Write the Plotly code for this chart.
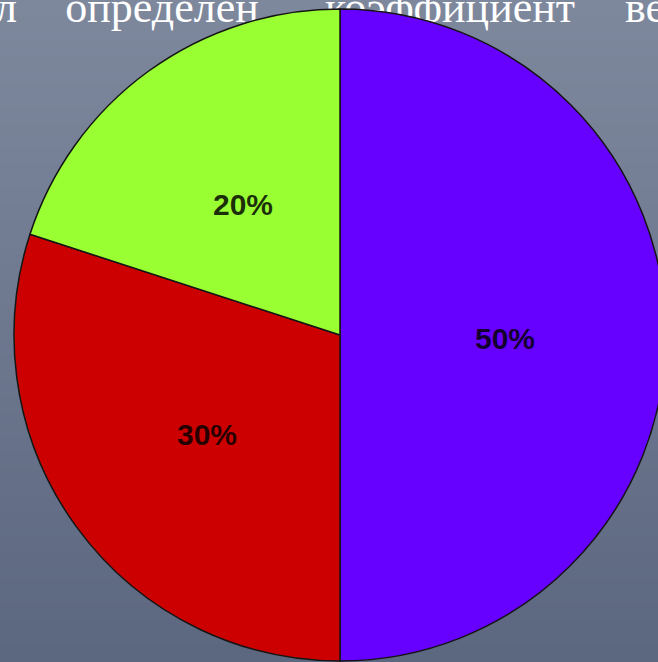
import math
import plotly.graph_objects as go

# ---- data ----
labels = ["A", "B", "C"]
values = [50, 30, 20]
slice_colors = ["#6600FF", "#CC0000", "#99FF33"]
heading_words = ["л", "определен", "коэффициент", "ве"]

# ---- layout constants ----
W, H = 672, 662
cx, cy, R = 340, 335, 326
word_x = [17, 162, 450, 625]           # pixel anchors
word_pos = ["middle left", "middle center", "middle center", "middle right"]
word_y = 651
label_r = 0.505                          # fraction of radius for labels

fig = go.Figure()

# heading text (behind pie)
fig.add_trace(go.Scatter(
    x=word_x, y=[word_y] * len(heading_words), text=heading_words,
    mode="text", textposition=word_pos,
    textfont=dict(family="Liberation Serif", size=44, color="white"),
    hoverinfo="skip", showlegend=False, cliponaxis=True,
))

fig.add_trace(go.Pie(
    labels=labels, values=values, sort=False, direction="clockwise", rotation=0,
    marker=dict(colors=slice_colors, line=dict(color="#151515", width=1.5)),
    textinfo="none",
    domain=dict(x=[(cx - R) / W, (cx + R) / W],
                y=[1 - (cy + R) / H, 1 - (cy - R) / H]),
    showlegend=False, hoverinfo="skip",
))

# percentage labels placed along each slice's mid-angle
total = sum(values)
annotations = []
cum = 0
for v in values:
    theta = 2 * math.pi * (cum + v / 2) / total
    cum += v
    px = cx + label_r * R * math.sin(theta)
    py = cy - label_r * R * math.cos(theta) + 3
    annotations.append(dict(
        x=px / W, y=1 - py / H, xref="paper", yref="paper",
        text="%d%%" % round(100 * v / total), showarrow=False,
        font=dict(family="Liberation Sans", size=30, color="rgba(0,0,0,0.82)",
                  weight="bold"),
        xanchor="center", yanchor="middle",
    ))

# background vertical gradient
shapes = []
n = 80
top = (126, 136, 157)
bot = (92, 103, 128)
for i in range(n):
    t = i / (n - 1)
    c = tuple(int(round(top[k] + (bot[k] - top[k]) * t)) for k in range(3))
    shapes.append(dict(type="rect", xref="paper", yref="paper",
                       x0=0, x1=1, y0=1 - (i + 1) / n, y1=1 - i / n + 0.002,
                       fillcolor="rgb(%d,%d,%d)" % c, line=dict(width=0),
                       layer="below"))

fig.update_layout(
    width=W, height=H, margin=dict(l=0, r=0, t=0, b=0),
    paper_bgcolor="rgb(110,120,143)", plot_bgcolor="rgba(0,0,0,0)",
    shapes=shapes, annotations=annotations,
    xaxis=dict(range=[0, W], visible=False, fixedrange=True),
    yaxis=dict(range=[0, H], visible=False, fixedrange=True),
)

fig.write_html(
    "out.html",
    config={"displayModeBar": False},
    post_script="document.body.style.margin='0';document.body.style.overflow='hidden';"
                "document.documentElement.style.overflow='hidden';",
)
